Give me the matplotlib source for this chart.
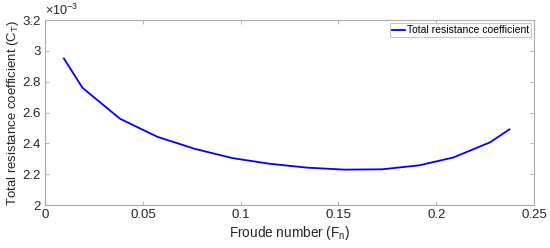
import matplotlib
matplotlib.use("Agg")
import matplotlib.pyplot as plt

plt.rcParams['font.family'] = ['Liberation Sans', 'DejaVu Sans']
plt.rcParams['mathtext.fontset'] = 'custom'
plt.rcParams['mathtext.rm'] = 'Liberation Sans'
plt.rcParams['mathtext.it'] = 'Liberation Sans'

# Froude number and total resistance coefficient
fn = [0.0096, 0.0191, 0.0383, 0.0574, 0.0765, 0.0957, 0.1148,
      0.1339, 0.1530, 0.1722, 0.1913, 0.2088, 0.2275, 0.2374]
ct = [2.951e-3, 2.761e-3, 2.560e-3, 2.443e-3, 2.365e-3, 2.305e-3, 2.268e-3,
      2.243e-3, 2.230e-3, 2.232e-3, 2.258e-3, 2.309e-3, 2.407e-3, 2.491e-3]

xticks = [0, 0.05, 0.1, 0.15, 0.2, 0.25]
xticklabels = ['0', '0.05', '0.1', '0.15', '0.2', '0.25']
yticks = [2e-3, 2.2e-3, 2.4e-3, 2.6e-3, 2.8e-3, 3e-3, 3.2e-3]
yticklabels = ['2', '2.2', '2.4', '2.6', '2.8', '3', '3.2']

fig = plt.figure(figsize=(5.5, 2.48), dpi=100)
ax = fig.add_axes([0.082, 0.173, 0.889, 0.746])

ax.plot(fn, ct, color='#0000ff', lw=1.3, label='Total resistance coefficient')

ax.set_xlim(0, 0.25)
ax.set_ylim(2e-3, 3.2e-3)
ax.set_xticks(xticks)
ax.set_xticklabels(xticklabels)
ax.set_yticks(yticks)
ax.set_yticklabels(yticklabels)
ax.text(0.0, 1.01, '$\\times$10$^{-3}$', transform=ax.transAxes, fontsize=9,
        color='#262626', ha='left', va='bottom')

for s in ax.spines.values():
    s.set_color('#ababab')
    s.set_linewidth(0.8)
ax.tick_params(direction='in', top=True, right=True, length=3, width=0.6,
               color='#ababab', labelcolor='#262626', labelsize=9.5, pad=3)

ax.set_xlabel('Froude number (F$_\\mathregular{n}$)', fontsize=9.8, color='#262626', labelpad=2)
ax.set_ylabel('Total resistance coefficient (C$_\\mathregular{T}$)', fontsize=9.5,
              color='#262626', va='center')
ax.yaxis.set_label_coords(-0.065, 0.5)

leg = ax.legend(loc='upper right', fontsize=7.5, frameon=True, fancybox=False,
                handlelength=1.2, handletextpad=0.2, borderpad=0.2,
                borderaxespad=0.3)
leg.get_frame().set_edgecolor('#ababab')
leg.get_frame().set_linewidth(0.6)

fig.savefig('out.png', dpi=100)
